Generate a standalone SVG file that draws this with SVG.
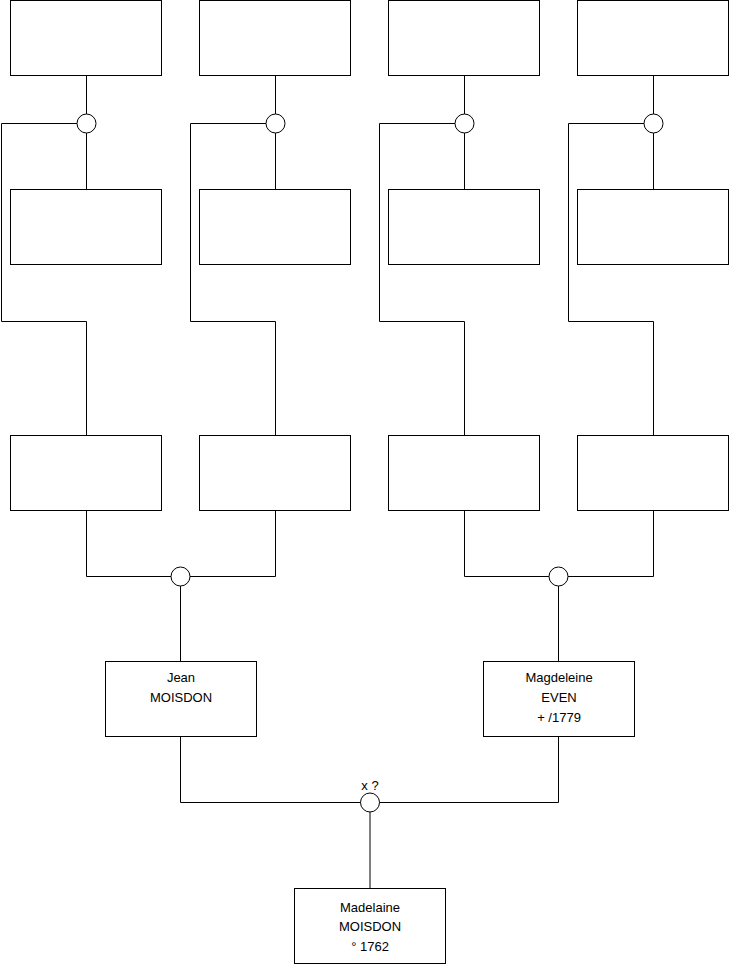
<svg xmlns="http://www.w3.org/2000/svg" width="740" height="975" viewBox="0 0 740 975">
<style>
.box{fill:#fff;stroke:#000;stroke-width:1}
.c{fill:#fff;stroke:#000;stroke-width:1}
.ln{fill:none;stroke:#000;stroke-width:1}
text{font-family:"Liberation Sans",Arial,sans-serif;font-size:13px;fill:#000;text-anchor:middle}
</style>
<rect width="740" height="975" fill="#fff"/>
<g id="connectors">
<path class="ln" d="M86.5 75.5V114"/>
<path class="ln" d="M86.5 133V189.5"/>
<path class="ln" d="M77 123.5H1.5V321.5H86.5V435.5"/>
<path class="ln" d="M275.5 75.5V114"/>
<path class="ln" d="M275.5 133V189.5"/>
<path class="ln" d="M266 123.5H190.5V321.5H275.5V435.5"/>
<path class="ln" d="M464.5 75.5V114"/>
<path class="ln" d="M464.5 133V189.5"/>
<path class="ln" d="M455 123.5H379.5V321.5H464.5V435.5"/>
<path class="ln" d="M653.5 75.5V114"/>
<path class="ln" d="M653.5 133V189.5"/>
<path class="ln" d="M644 123.5H568.5V321.5H653.5V435.5"/>
<path class="ln" d="M86.5 510.5V576.5H275.5V510.5"/>
<path class="ln" d="M180.5 576.5V661.5"/>
<path class="ln" d="M464.5 510.5V576.5H653.5V510.5"/>
<path class="ln" d="M558.5 576.5V661.5"/>
<path class="ln" d="M180.5 736.5V802.5H558.5V736.5"/>
<path class="ln" d="M370 802.5V888.5"/>
</g>
<g id="u1"><circle class="c" cx="86.5" cy="123.5" r="9.5"/></g>
<g id="u2"><circle class="c" cx="275.5" cy="123.5" r="9.5"/></g>
<g id="u3"><circle class="c" cx="464.5" cy="123.5" r="9.5"/></g>
<g id="u4"><circle class="c" cx="653.5" cy="123.5" r="9.5"/></g>
<g id="u5"><circle class="c" cx="180.5" cy="576.5" r="9.5"/></g>
<g id="u6"><circle class="c" cx="558.5" cy="576.5" r="9.5"/></g>
<g id="u7"><circle class="c" cx="370" cy="802.5" r="9.5"/><text x="370" y="790">x ?</text></g>
<g id="p1"><rect class="box" x="10.5" y="0.5" width="151" height="75"/></g>
<g id="p2"><rect class="box" x="199.5" y="0.5" width="151" height="75"/></g>
<g id="p3"><rect class="box" x="388.5" y="0.5" width="151" height="75"/></g>
<g id="p4"><rect class="box" x="577.5" y="0.5" width="151" height="75"/></g>
<g id="p5"><rect class="box" x="10.5" y="189.5" width="151" height="75"/></g>
<g id="p6"><rect class="box" x="199.5" y="189.5" width="151" height="75"/></g>
<g id="p7"><rect class="box" x="388.5" y="189.5" width="151" height="75"/></g>
<g id="p8"><rect class="box" x="577.5" y="189.5" width="151" height="75"/></g>
<g id="p9"><rect class="box" x="10.5" y="435.5" width="151" height="75"/></g>
<g id="p10"><rect class="box" x="199.5" y="435.5" width="151" height="75"/></g>
<g id="p11"><rect class="box" x="388.5" y="435.5" width="151" height="75"/></g>
<g id="p12"><rect class="box" x="577.5" y="435.5" width="151" height="75"/></g>
<g id="jean"><rect class="box" x="105.5" y="661.5" width="151" height="75"/>
<text x="181" y="682">Jean</text><text x="181" y="701.5">MOISDON</text></g>
<g id="magdeleine"><rect class="box" x="483.5" y="661.5" width="151" height="75"/>
<text x="559" y="682">Magdeleine</text><text x="559" y="702">EVEN</text><text x="559" y="722">+ /1779</text></g>
<g id="madelaine"><rect class="box" x="294.5" y="888.5" width="151" height="75"/>
<text x="370" y="911.5">Madelaine</text><text x="370" y="931">MOISDON</text><text x="370" y="950.5">° 1762</text></g>
</svg>
